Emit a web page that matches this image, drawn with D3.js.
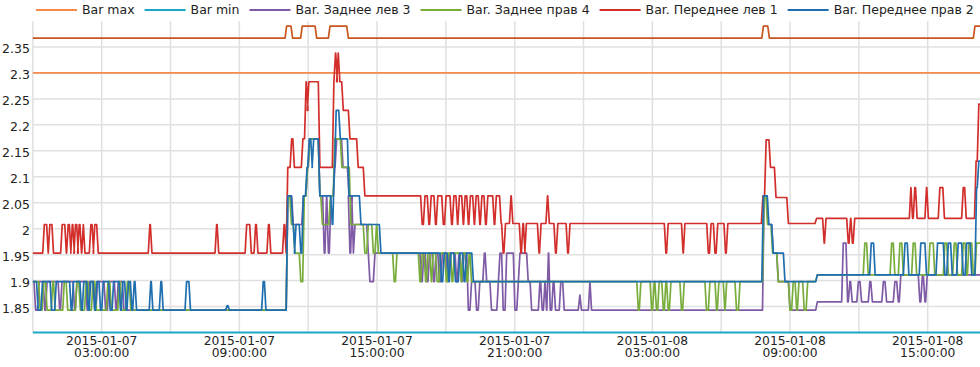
<!DOCTYPE html>
<html><head><meta charset="utf-8">
<script src="https://cdn.jsdelivr.net/npm/d3@7"></script>
<style>
html,body{margin:0;padding:0;background:#fff;}
svg{display:block;font-family:"DejaVu Sans",sans-serif;}
</style></head><body>
<svg id="chart" width="980" height="367"></svg>
<script>
// ---------------- DATA ----------------
const startDate = new Date(2015, 0, 7, 0, 0, 0);
const endHour = 41.28;
const yTicks = [1.85, 1.9, 1.95, 2.0, 2.05, 2.1, 2.15, 2.2, 2.25, 2.3, 2.35];
const xLabelHours = [3, 9, 15, 21, 27, 33, 39];
const legendNames = ["Bar max", "Bar min", "Bar. Заднее лев 3", "Bar. Заднее прав 4", "Bar. Переднее лев 1", "Bar. Переднее прав 2"];
const barMax = 2.3;
const barMin = 1.8;

// change points: [hours since 2015-01-07 00:00, value]
const zadLev3 = [[0,1.898],[0.05,1.843],[0.20,1.898],[0.45,1.843],[0.55,1.898],[1.10,1.843],[1.20,1.898],[1.75,1.843],[1.85,1.898],[2.30,1.843],[2.40,1.898],[2.65,1.843],[2.75,1.898],[3.10,1.843],[3.25,1.898],[3.55,1.843],[3.65,1.898],[3.90,1.843],
[11.04,2.063],[11.28,2.008],[11.72,2.063],[11.90,2.118],[12.00,2.173],[12.44,2.063],[12.63,1.953],[12.73,2.063],[12.81,1.953],[12.92,2.063],[13.09,2.118],[13.17,2.173],[13.45,2.118],[13.71,2.063],[13.75,1.953],[13.85,2.063],[13.90,1.953],[13.97,2.008],[14.55,1.953],[14.62,1.898],[14.84,1.953],
[16.87,1.898],[16.97,1.953],[17.10,1.898],[17.22,1.953],[17.40,1.898],[17.50,1.953],[17.65,1.898],[17.78,1.953],[18.00,1.898],[18.10,1.953],[18.40,1.898],[18.50,1.953],[18.62,1.898],[18.72,1.953],
[18.91,1.843],[19.05,1.898],[19.27,1.843],[19.41,1.898],[19.61,1.953],[19.71,1.898],[19.92,1.843],[20.22,1.898],[20.29,1.953],[20.43,1.843],[20.58,1.953],[20.94,1.843],[21.09,1.898],[21.16,1.953],[21.52,1.898],[21.67,1.843],
[22.03,1.898],[22.13,1.843],[22.25,1.898],[22.32,1.843],[22.40,1.953],[22.48,1.843],[22.61,1.898],[22.71,1.843],[22.94,1.898],[23.09,1.843],[23.77,1.872],[23.84,1.843],[24.21,1.898],[24.28,1.843],
[31.80,2.063],[31.98,2.008],[32.20,1.953],[32.42,1.898],[32.93,1.843],[34.12,1.859],
[35.25,1.972],[35.44,1.859],[35.54,1.898],[35.64,1.859],[35.91,1.898],[36.05,1.859],[36.41,1.898],[36.52,1.859],[37.00,1.898],[37.14,1.859],[37.50,1.898],[37.65,1.859],
[37.76,1.911],[38.59,1.859],[38.70,1.911],[38.81,1.859],[38.91,1.911]];

const zadPrav4 = [[0,1.898],[0.25,1.843],[0.40,1.898],[0.55,1.843],[0.80,1.898],[0.90,1.843],[1.30,1.898],[1.45,1.843],[1.85,1.898],[2.00,1.843],[2.25,1.898],[2.40,1.843],[2.55,1.898],[2.70,1.843],[3.20,1.898],[3.35,1.843],[3.70,1.898],[3.80,1.843],[4.05,1.898],[4.20,1.843],
[11.04,2.063],[11.20,2.008],[11.35,1.953],[11.61,1.898],[11.76,2.063],[11.90,2.118],[12.00,2.173],[12.44,2.063],[12.55,2.008],[12.90,2.063],[13.09,2.173],[13.40,2.118],[13.79,2.008],[14.40,1.953],[14.55,2.008],[14.77,1.953],[14.91,2.008],[14.99,1.953],
[15.68,1.898],[15.80,1.953],
[16.80,1.898],[16.90,1.953],[17.05,1.898],[17.15,1.953],[17.30,1.898],[17.38,1.953],[17.55,1.898],[17.70,1.953],[17.95,1.898],[18.05,1.953],[18.20,1.898],[18.30,1.953],[18.60,1.898],[18.68,1.953],[18.85,1.898],[18.95,1.953],[19.05,1.898],
[26.32,1.843],[26.43,1.898],[26.90,1.843],[27.01,1.898],[27.11,1.843],[27.23,1.898],[27.41,1.843],[27.52,1.898],[27.62,1.843],[27.74,1.898],
[28.20,1.843],[28.32,1.898],[29.29,1.843],[29.44,1.898],[29.73,1.843],[29.83,1.898],[30.09,1.843],[30.17,1.898],[30.60,1.843],[30.75,1.898],
[31.80,2.063],[31.95,2.008],[32.17,1.953],[32.42,1.898],[32.93,1.843],[33.07,1.898],[33.22,1.843],[33.32,1.898],[33.55,1.843],[33.70,1.898],
[34.12,1.911],[36.19,1.972],[36.34,1.911],[37.36,1.972],[37.50,1.911],[37.72,1.972],[37.87,1.911],[38.30,1.972],[38.45,1.911],[39.03,1.972],[39.24,1.911],
[39.68,1.972],[39.83,1.911],[40.09,1.972],[40.23,1.911],[40.48,1.972],[40.63,1.911],[40.73,1.972],[40.92,1.911],[41.06,1.972]];

const perLev1 = [[0,1.953],[0.43,2.008],[0.60,1.953],[0.67,2.008],[0.83,1.953],[1.21,2.008],[1.39,1.953],[1.47,2.008],[1.59,1.953],[1.65,2.008],[1.74,1.953],[1.79,2.008],[1.91,1.953],[1.95,2.008],[2.05,1.953],[2.13,2.008],[2.20,1.953],[2.46,2.008],[2.58,1.953],[2.63,2.008],[2.78,1.953],
[5.03,2.008],[5.12,1.953],[7.94,2.008],[8.03,1.953],[9.25,2.008],[9.45,1.953],[9.64,2.008],[9.74,1.953],[10.20,2.008],[10.30,1.953],[10.88,2.008],[10.97,1.953],
[11.04,2.118],[11.21,2.173],[11.33,2.118],[11.70,2.173],[11.84,2.283],[11.92,2.228],[11.96,2.283],[12.44,2.118],
[13.05,2.283],[13.12,2.338],[13.20,2.283],[13.24,2.338],[13.31,2.283],[13.46,2.228],[13.75,2.173],[14.11,2.118],[14.40,2.063],
[16.90,2.008],[17.02,2.063],[17.19,2.008],[17.29,2.063],[17.48,2.008],[17.58,2.063],[17.82,2.008],[17.94,2.063],[18.18,2.008],[18.28,2.063],[18.44,2.008],[18.52,2.063],
[18.69,2.008],[18.77,2.063],[18.91,2.008],[19.00,2.063],[19.17,2.008],[19.25,2.063],[19.41,2.008],[19.50,2.063],[19.66,2.008],[19.76,2.063],[20.04,2.008],[20.13,2.063],
[20.34,2.010],[20.43,1.953],[20.53,2.010],[20.77,2.063],[20.85,2.010],[21.20,1.953],[21.29,2.010],[21.38,1.953],[21.44,2.010],[21.99,1.953],[22.08,2.010],[22.36,2.063],[22.44,2.010],
[22.71,1.953],[22.81,2.010],[23.24,1.953],[23.34,2.010],[27.52,1.953],[27.62,2.010],[28.27,1.953],[28.35,2.010],[29.37,1.953],[29.49,2.010],[29.66,1.953],[29.78,2.010],[30.12,1.953],[30.22,2.010],
[31.75,2.063],[31.89,2.171],[32.08,2.118],[32.32,2.060],[32.86,2.010],
[34.09,2.020],[34.42,1.972],[34.50,2.020],[35.47,1.972],[35.57,2.020],[35.65,1.972],[35.75,2.020],
[38.20,2.079],[38.27,2.020],[38.37,2.079],[38.47,2.020],[38.88,2.079],[38.96,2.020],[39.46,2.079],[39.66,2.020],[40.48,2.079],[40.61,2.020],[41.04,2.13],[41.16,2.24]];

const perPrav2 = [[0,1.898],[0.16,1.843],[0.35,1.898],[0.75,1.843],[0.95,1.898],[1.60,1.843],[1.70,1.898],[2.05,1.843],[2.15,1.898],[2.35,1.843],[2.45,1.898],[2.62,1.843],[2.72,1.898],[2.88,1.843],[3.00,1.898],[3.30,1.843],[3.45,1.898],[3.75,1.843],[3.85,1.898],[4.00,1.843],[4.10,1.898],[4.25,1.843],[4.35,1.898],[4.45,1.843],
[5.07,1.898],[5.16,1.843],[5.51,1.898],[5.61,1.843],[6.63,1.898],[6.80,1.843],[8.40,1.852],[8.50,1.843],[9.97,1.898],[10.09,1.843],
[11.04,2.063],[11.26,2.008],[11.35,1.953],[11.40,2.008],[11.61,1.953],[11.72,2.063],[11.88,2.118],[11.98,2.173],[12.11,2.118],[12.17,2.173],[12.44,2.063],[12.98,2.008],[13.07,2.118],[13.15,2.228],[13.33,2.173],[13.71,2.063],[14.23,2.008],[15.10,1.953],
[17.74,1.898],[17.86,1.953],[18.06,1.898],[18.15,1.953],[18.35,1.898],[18.54,1.953],[18.73,1.898],[18.83,1.953],[19.13,1.898],
[31.77,2.063],[32.01,2.008],[32.20,1.953],[32.71,1.898],[34.12,1.911],
[36.47,1.972],[36.64,1.911],[37.94,1.972],[38.11,1.911],[38.63,1.972],[38.88,1.911],[39.36,1.972],[39.68,1.911],[39.83,1.972],[40.00,1.911],[40.26,1.972],[40.48,1.911],[40.63,1.972],[40.85,1.911],
[41.06,2.079],[41.16,2.13]];

// series whose legend entry lies beyond the right edge
const offLegend = [[0,2.367],[10.99,2.39],[11.25,2.367],[11.67,2.39],[12.30,2.367],[12.88,2.39],[13.68,2.367],[31.77,2.39],[32.03,2.367],[40.99,2.39]];

// ---------------- RENDER ----------------
const colors = {max:"#f58a4b", min:"#1ba8c6", lev3:"#7f5ba6", prav4:"#78ad3c", lev1:"#d22f2c", prav2:"#1f6fb0", off:"#c8561f"};
const hd = h => new Date(startDate.getTime() + h * 3600000);
const pLeft = 32.87, pRight = 980, pTop = 21, pBottom = 332.5;
const svg = d3.select("#chart");
const x = d3.scaleTime().domain([hd(0), hd(endHour)]).range([pLeft, pRight]);
const y = d3.scaleLinear().domain([1.8, 2.4]).range([pBottom, pTop]);

const grid = svg.append("g");
grid.selectAll("line.h").data(yTicks).join("line")
  .attr("x1", pLeft).attr("x2", pRight).attr("y1", d => y(d)).attr("y2", d => y(d))
  .attr("stroke", "#e0e0e0").attr("stroke-width", 1.5);
const vTicks = d3.timeHour.every(3).range(hd(0), hd(endHour));
grid.selectAll("line.v").data(vTicks).join("line")
  .attr("x1", d => x(d)).attr("x2", d => x(d)).attr("y1", pTop).attr("y2", pBottom)
  .attr("stroke", "#e0e0e0").attr("stroke-width", 1.5);

// y axis labels
const yAxis = svg.append("g").attr("transform", `translate(${pLeft},0)`)
  .call(d3.axisLeft(y).tickValues(yTicks).tickFormat(d3.format("")).tickSize(0).tickPadding(3));
yAxis.select(".domain").remove();
yAxis.selectAll("text").attr("font-size", "12.5px").attr("fill", "#222").attr("dy", "0.45em").attr("font-family", "DejaVu Sans");

// x axis labels
const fDate = d3.timeFormat("%Y-%m-%d"), fTime = d3.timeFormat("%H:%M:%S");
const xl = svg.append("g").selectAll("text").data(xLabelHours.map(hd)).join("text")
  .attr("x", d => x(d)).attr("y", 344.5).attr("text-anchor", "middle")
  .attr("font-size", "12.3px").attr("fill", "#222");
xl.append("tspan").attr("x", d => x(d)).text(d => fDate(d));
xl.append("tspan").attr("x", d => x(d)).attr("dy", 12).text(d => fTime(d));

// step lines with short slanted transitions
const dt = 0.07;
function stepPoints(ch) {
  const pts = [[ch[0][0], ch[0][1]]];
  for (let i = 1; i < ch.length; i++) {
    pts.push([ch[i][0], ch[i - 1][1]]);
    pts.push([ch[i][0] + dt, ch[i][1]]);
  }
  pts.push([endHour, ch[ch.length - 1][1]]);
  return pts;
}
const line = d3.line().x(d => x(hd(d[0]))).y(d => y(d[1]));
const plot = svg.append("g");
plot.append("path").attr("d", line([[0, barMax], [endHour, barMax]])).attr("stroke", colors.max).attr("stroke-width", 1.6).attr("fill", "none");
plot.append("path").attr("d", line([[0, barMin], [endHour, barMin]])).attr("stroke", colors.min).attr("stroke-width", 2).attr("fill", "none");
[[zadLev3, colors.lev3], [zadPrav4, colors.prav4], [perLev1, colors.lev1], [perPrav2, colors.prav2], [offLegend, colors.off]].forEach(([s, c]) => {
  plot.append("path").attr("d", line(stepPoints(s))).attr("stroke", c).attr("stroke-width", 1.7)
    .attr("fill", "none").attr("stroke-linejoin", "round");
});

// legend
const legColors = [colors.max, colors.min, colors.lev3, colors.prav4, colors.lev1, colors.prav2];
let lx = 36;
const leg = svg.append("g");
legendNames.forEach((n, i) => {
  leg.append("line").attr("x1", lx).attr("x2", lx + 41).attr("y1", 10).attr("y2", 10)
    .attr("stroke", legColors[i]).attr("stroke-width", 2);
  const t = leg.append("text").attr("x", lx + 46).attr("y", 10).attr("dy", "0.35em")
    .attr("font-size", "12.5px").attr("fill", "#222").text(n);
  lx += 46 + t.node().getComputedTextLength() + 10;
});
</script>
</body></html>
